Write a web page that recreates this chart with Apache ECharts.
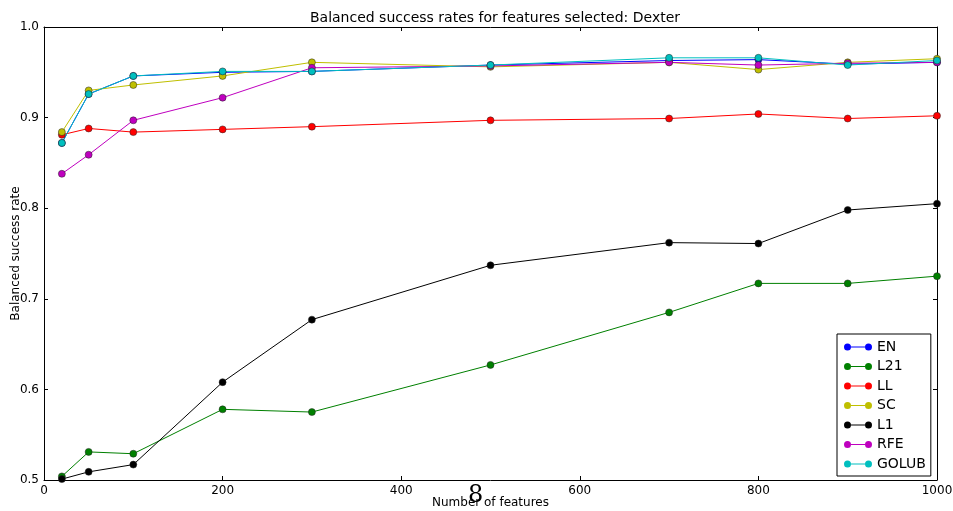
<!DOCTYPE html>
<html><head><meta charset="utf-8">
<script src="https://cdn.jsdelivr.net/npm/echarts@6/dist/echarts.min.js"></script>
<style>html,body{margin:0;padding:0;background:#fff}#c{width:953px;height:511px}</style>
</head><body><div id="c"></div>
<script>
const features = [20, 50, 100, 200, 300, 500, 700, 800, 900, 1000];
const EN    = [0.872, 0.926, 0.946, 0.950, 0.951, 0.958, 0.963, 0.964, 0.959, 0.961];
const L21   = [0.504, 0.531, 0.529, 0.578, 0.575, 0.627, 0.685, 0.717, 0.717, 0.725];
const LL    = [0.881, 0.888, 0.884, 0.887, 0.890, 0.897, 0.899, 0.904, 0.899, 0.902];
const SC    = [0.884, 0.930, 0.936, 0.946, 0.961, 0.956, 0.961, 0.953, 0.961, 0.965];
const L1    = [0.501, 0.509, 0.517, 0.608, 0.677, 0.737, 0.762, 0.761, 0.798, 0.805];
const RFE   = [0.838, 0.859, 0.897, 0.922, 0.955, 0.957, 0.961, 0.958, 0.960, 0.961];
const GOLUB = [0.872, 0.926, 0.946, 0.951, 0.951, 0.958, 0.966, 0.966, 0.958, 0.963];
const xTicks = [0, 200, 400, 600, 800, 1000];
const yTicks = [0.5, 0.6, 0.7, 0.8, 0.9, 1.0];

const seriesDefs = [
  ['EN', EN, '#0000ff'],
  ['L21', L21, '#008000'],
  ['LL', LL, '#ff0000'],
  ['SC', SC, '#bfbf00'],
  ['L1', L1, '#000000'],
  ['RFE', RFE, '#bf00bf'],
  ['GOLUB', GOLUB, '#00bfbf']
];
const font = 'DejaVu Sans';
const icon = 'path://M0,4a4,4 0 1,0 8,0a4,4 0 1,0 -8,0z M8,3.5h16v1h-16z M24,4a4,4 0 1,0 8,0a4,4 0 1,0 -8,0z';

const chart = echarts.init(document.getElementById('c'), null, {renderer: 'canvas'});
const axisBase = {
  type: 'value',
  axisLine: {show: true, onZero: false, lineStyle: {color: '#000', width: 1}},
  axisTick: {show: true, inside: true, length: 4, lineStyle: {color: '#000'}},
  splitLine: {show: false}
};
chart.setOption({
  animation: false,
  backgroundColor: '#fff',
  title: {
    text: 'Balanced success rates for features selected: Dexter',
    left: 490, top: 6, textAlign: 'center',
    textStyle: {fontFamily: font, fontSize: 14, fontWeight: 'normal', color: '#000'}
  },
  grid: {left: 44, right: 16, top: 27, bottom: 31, containLabel: false, outerBoundsMode: 'none'},
  xAxis: [
    Object.assign({}, axisBase, {
      min: 0, max: 1000, interval: 200, position: 'bottom',
      name: 'Number of features', nameLocation: 'middle', nameGap: 17, nameMoveOverlap: false,
      nameTextStyle: {fontFamily: font, fontSize: 12, color: '#000'},
      axisLabel: {fontFamily: font, fontSize: 12, color: '#000', margin: 5,
        formatter: v => xTicks.includes(v) ? String(v) : ''}
    }),
    Object.assign({}, axisBase, {
      min: 0, max: 1000, interval: 200, position: 'top', axisLabel: {show: false}
    })
  ],
  yAxis: [
    Object.assign({}, axisBase, {
      min: 0.5, max: 1.0, interval: 0.1, position: 'left',
      name: 'Balanced success rate', nameLocation: 'middle', nameGap: 22, nameMoveOverlap: false,
      nameTextStyle: {fontFamily: font, fontSize: 12, color: '#000'},
      axisLabel: {fontFamily: font, fontSize: 12, color: '#000', margin: 5,
        formatter: v => yTicks.some(t => Math.abs(t - v) < 1e-9) ? v.toFixed(1) : ''}
    }),
    Object.assign({}, axisBase, {
      min: 0.5, max: 1.0, interval: 0.1, position: 'right', axisLabel: {show: false}
    })
  ],
  legend: {
    orient: 'vertical', left: 837, top: 334,
    backgroundColor: '#fff', borderColor: '#000', borderWidth: 1, borderRadius: 0,
    padding: [6, 5, 5, 7], itemGap: 5.5, itemWidth: 28, itemHeight: 7,
    icon: icon,
    itemStyle: {borderWidth: 0},
    textStyle: {fontFamily: font, fontSize: 14, color: '#000', lineHeight: 14},
    data: seriesDefs.map(d => d[0])
  },
  graphic: [{
    type: 'text', left: 468, top: 484,
    style: {text: '8', font: '24px "DejaVu Serif"', fill: '#000'}
  }],
  series: seriesDefs.map(d => ({
    name: d[0], type: 'line', xAxisIndex: 0, yAxisIndex: 0,
    data: features.map((f, i) => [f, d[1][i]]),
    symbol: 'circle', symbolSize: 7,
    itemStyle: {color: d[2], borderColor: '#222', borderWidth: 0.5},
    lineStyle: {color: d[2], width: 1},
    emphasis: {disabled: true}
  }))
});
</script></body></html>
